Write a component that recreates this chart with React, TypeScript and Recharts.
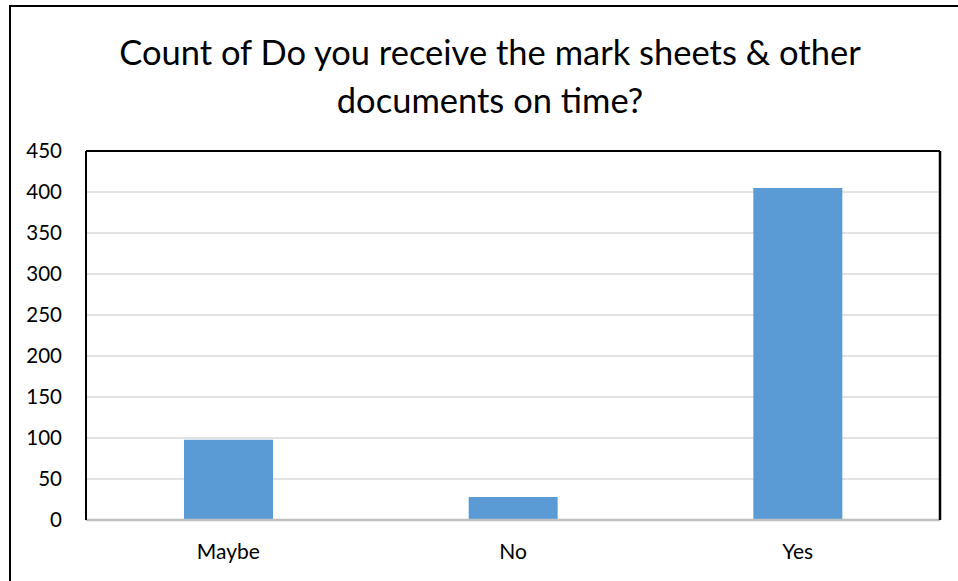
import React from 'react';
import { BarChart, Bar, XAxis, YAxis, CartesianGrid, ReferenceLine } from 'recharts';

const categories = ['Maybe', 'No', 'Yes'];
const counts = [98, 28, 405];
const yTicks = [0, 50, 100, 150, 200, 250, 300, 350, 400, 450];
const titleLines = ['Count of Do you receive the mark sheets & other', 'documents on time?'];

const data = categories.map((name, i) => ({ name, count: counts[i] }));

const FONT = 'Lato, "Open Sans", sans-serif';

export default function App() {
  return (
    <div style={{ position: 'absolute', left: 0, top: 0, width: 958, height: 581, overflow: 'hidden', background: '#fff', fontFamily: FONT }}>
      {/* outer chart frame */}
      <div style={{ position: 'absolute', left: 9, top: 5, width: 970, height: 600, border: '2px solid #000', boxSizing: 'border-box' }} />

      {/* title */}
      <div style={{ position: 'absolute', left: 0, top: 28, width: 980, textAlign: 'center', fontSize: 34.5, lineHeight: '48px', color: '#000' }}>
        {titleLines.map((t) => (
          <div key={t}>{t}</div>
        ))}
      </div>

      <div style={{ position: 'absolute', left: 0, top: 0 }}>
        <BarChart
          width={958}
          height={581}
          data={data}
          margin={{ top: 151, right: 16, bottom: 0, left: 0 }}
        >
          <CartesianGrid vertical={false} stroke="#d9d9d9" strokeWidth={1.5} yAxisId="l" />
          <XAxis
            dataKey="name"
            height={61}
            axisLine={{ stroke: '#bfbfbf', strokeWidth: 2.5 }}
            tickLine={false}
            tickMargin={18}
            tick={{ fill: '#000', fontSize: 21, fontFamily: FONT }}
          />
          <YAxis
            yAxisId="l"
            width={86}
            domain={[0, 450]}
            ticks={yTicks}
            interval={0}
            axisLine={{ stroke: '#000', strokeWidth: 2 }}
            tickLine={false}
            tickMargin={18}
            tick={{ fill: '#000', fontSize: 20.5, fontFamily: FONT }}
          />
          <YAxis
            yAxisId="r"
            orientation="right"
            width={2}
            domain={[0, 450]}
            tick={false}
            tickLine={false}
            axisLine={{ stroke: '#000', strokeWidth: 2.5 }}
          />
          <ReferenceLine yAxisId="l" y={450} stroke="#000" strokeWidth={2} />
          <Bar yAxisId="l" dataKey="count" fill="#5b9bd5" barSize={89} isAnimationActive={false} />
        </BarChart>
      </div>
    </div>
  );
}
